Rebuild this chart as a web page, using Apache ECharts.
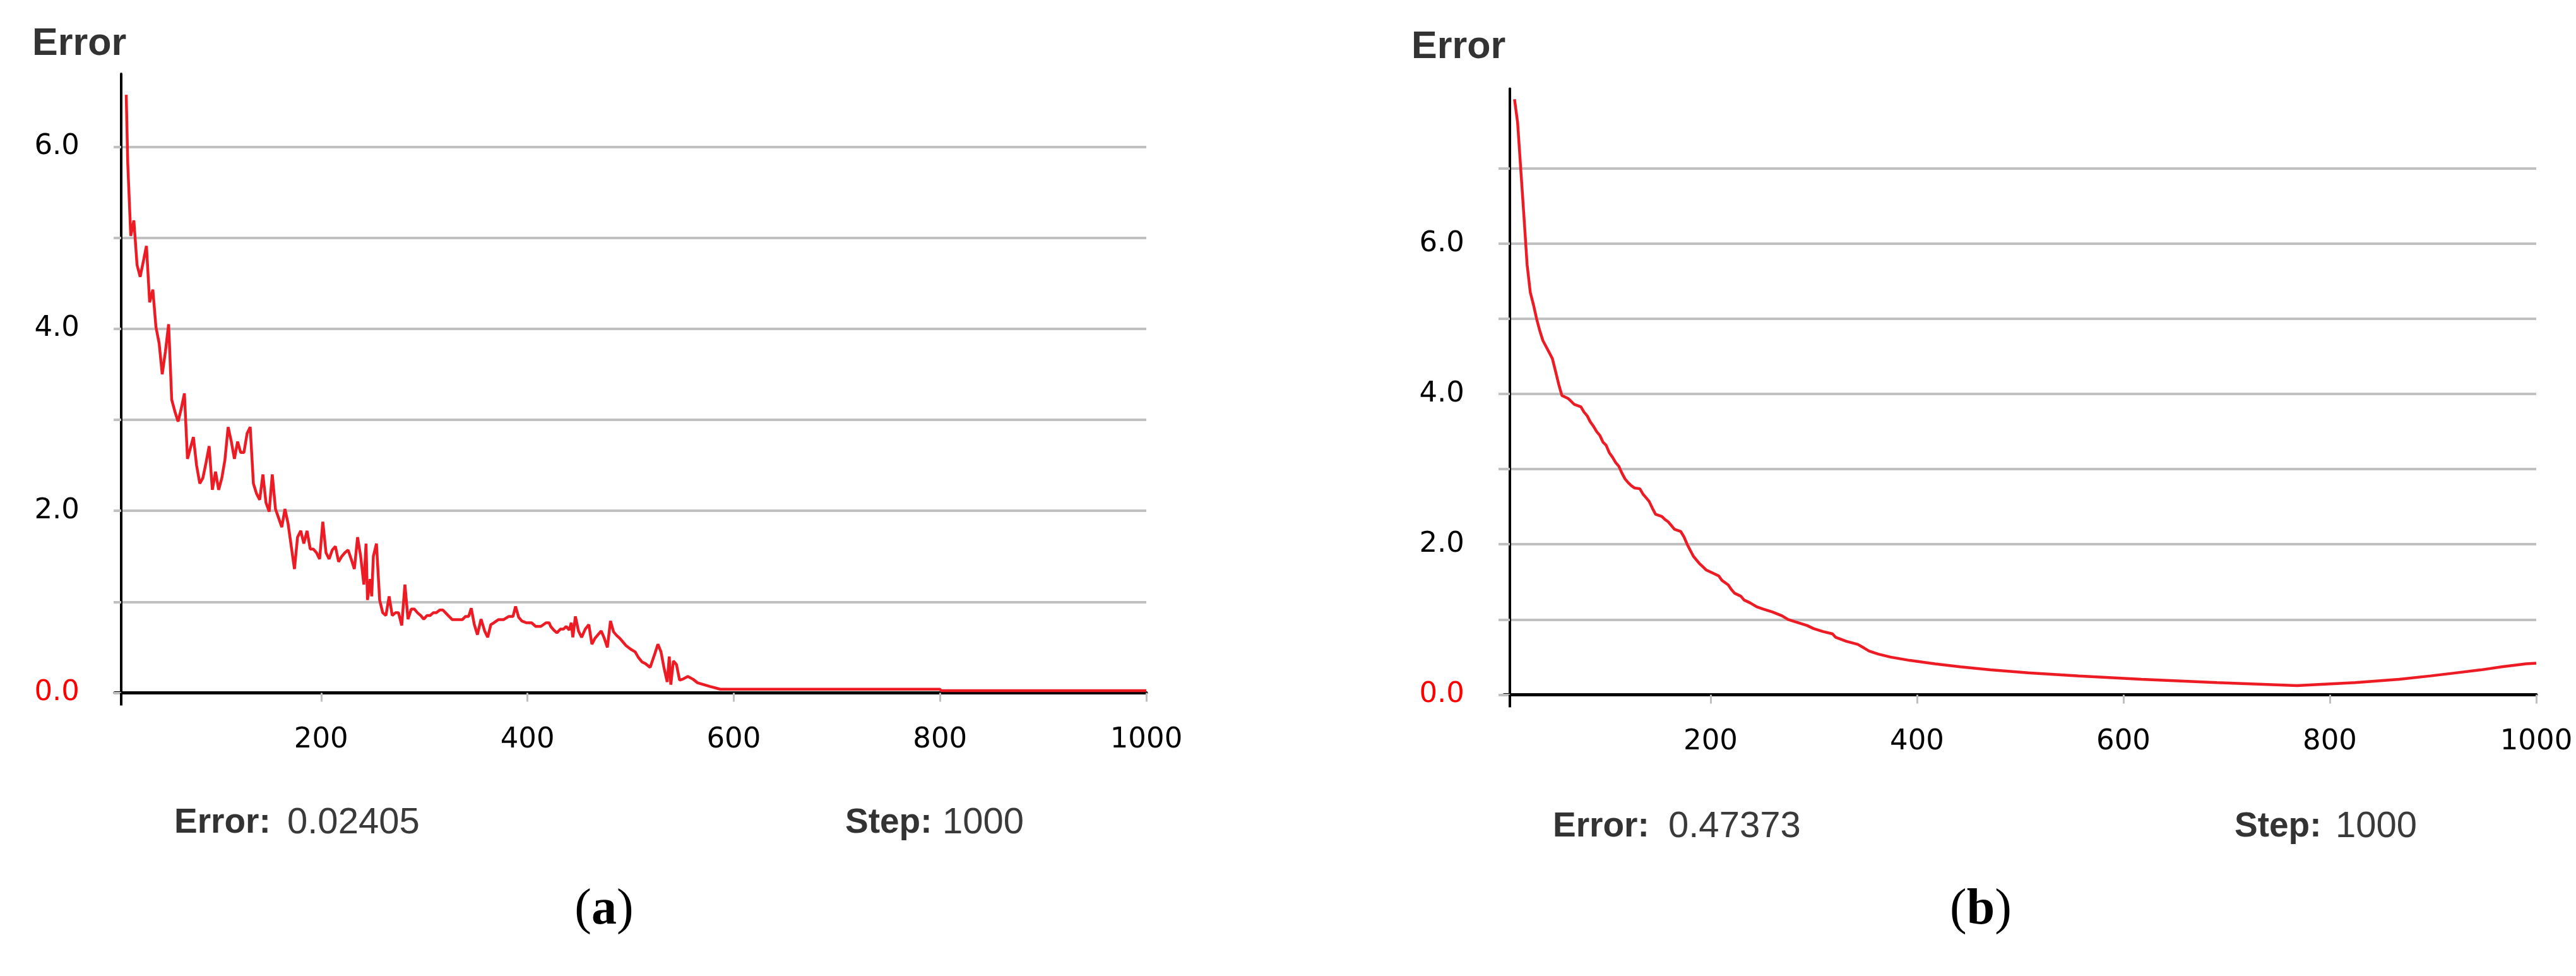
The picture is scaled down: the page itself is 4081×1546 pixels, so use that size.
<!DOCTYPE html>
<html>
<head>
<meta charset="utf-8">
<script src="https://cdn.jsdelivr.net/npm/echarts@6/dist/echarts.min.js"></script>
<style>
html,body{margin:0;padding:0;background:#ffffff;}
#chart{width:4081px;height:1546px;}
</style>
</head>
<body>
<div id="chart"></div>
<script>
// ---------- data ----------
const leftSteps = [11,12.5,15.4,18.4,21.5,24.5,27.6,30.6,33.7,36.8,39.8,42.9,45.9,49,52.1,55.1,58.2,61.3,64.3,67.4,70.4,76.1,79.2,82.3,85.3,88.4,91.4,94.5,97.6,100.6,103.7,106.7,109.8,112.9,115.9,119,122,125.1,128.2,131.2,134.3,137.3,140.4,143.5,146.5,149.6,152.6,155.7,158.8,161.8,164.9,167.9,171,174.1,177.1,180.2,183.2,186.3,189.4,192.4,195.5,198.5,201.6,204.7,207.7,210.8,213.8,216.9,220,223,226.1,229.1,232.2,235.3,238.3,241.4,243.5,244.9,247.5,249,250.6,253.6,256.7,259.7,262.8,265.9,268.9,272,275,278.1,281.2,284.2,287.3,290.4,293.4,296.5,299.5,302.6,305.6,308.7,311.7,315,318,321,324,327,332,337,340,343,345.5,348.5,351.5,355,358.5,361.5,364.5,367.5,372,377,382,386,388.5,391.5,394.5,399,404,408,413,418,421,422.5,425.5,428.5,432,435,437.5,440.5,442.5,444,446.5,449.5,452.5,456,459.5,462.5,465.5,468.5,471.5,474.5,477.5,480.5,483.5,486.5,489.5,492.5,495.5,500,504.5,507.5,511,514.5,519,523.5,526.5,529.5,532.5,535.5,537.5,539,541.5,544.5,547.5,550.5,555.5,560.5,565,577,587,700,800,801,1000];
const leftErrors = [6.57,5.81,5.02,5.19,4.70,4.57,4.74,4.91,4.29,4.43,4.02,3.84,3.50,3.75,4.05,3.22,3.09,2.98,3.12,3.29,2.57,2.81,2.50,2.30,2.36,2.53,2.71,2.23,2.43,2.23,2.36,2.56,2.92,2.76,2.57,2.76,2.64,2.64,2.85,2.92,2.30,2.19,2.12,2.40,2.09,1.99,2.40,2.02,1.92,1.82,2.02,1.86,1.61,1.36,1.71,1.78,1.64,1.78,1.58,1.58,1.54,1.47,1.88,1.54,1.47,1.57,1.61,1.44,1.50,1.54,1.57,1.47,1.36,1.71,1.50,1.19,1.64,1.02,1.25,1.06,1.50,1.64,1.02,0.88,0.85,1.06,0.85,0.88,0.88,0.74,1.19,0.81,0.92,0.92,0.88,0.85,0.81,0.85,0.85,0.88,0.88,0.91,0.91,0.875,0.84,0.805,0.805,0.805,0.84,0.84,0.93,0.75,0.64,0.81,0.68,0.61,0.75,0.77,0.805,0.805,0.84,0.84,0.95,0.83,0.79,0.77,0.77,0.73,0.73,0.77,0.77,0.73,0.69,0.66,0.70,0.70,0.73,0.69,0.77,0.61,0.84,0.68,0.61,0.70,0.75,0.535,0.60,0.64,0.68,0.60,0.50,0.79,0.67,0.63,0.60,0.56,0.52,0.48,0.45,0.39,0.34,0.32,0.28,0.43,0.535,0.45,0.27,0.12,0.40,0.09,0.35,0.31,0.14,0.15,0.18,0.15,0.11,0.07,0.04,0.04,0.04,0.024,0.024];

const rightSteps = [10,13,16.1,19.2,22.2,25.3,28.3,31.4,34.5,37.5,40.6,43.7,46.7,49.8,52.8,55.9,62,68,74.3,77.3,80.4,83.4,86.5,89.6,92.6,95.7,98.7,101.8,104.9,107.9,111,114,117.1,120.2,123.2,126.3,131.4,134.4,137.5,140.5,143.6,146.7,152.8,155.8,158.9,162,165,171.1,174.2,177.3,180.3,183.4,186.4,189.5,192.6,195.6,201.8,207.9,211,217.1,220.1,223.2,229.3,232.4,238.5,244.6,250.7,259.9,269.1,275.2,284.4,293.6,299.7,308.9,318.1,321,331.6,342.5,348.8,353.7,362.6,374.5,393,417.3,442,471.2,507.7,556.9,617.5,690.6,768.2,824.6,867.3,897.6,922,946.4,966.5,990,1000];
const rightErrors = [7.92,7.61,6.98,6.35,5.72,5.35,5.19,5.0,4.84,4.71,4.63,4.55,4.47,4.30,4.13,3.98,3.94,3.86,3.83,3.76,3.71,3.63,3.57,3.50,3.45,3.36,3.32,3.22,3.16,3.09,3.04,2.95,2.87,2.82,2.78,2.75,2.74,2.67,2.62,2.57,2.48,2.40,2.37,2.33,2.30,2.25,2.20,2.17,2.10,2.00,1.92,1.84,1.79,1.74,1.70,1.66,1.62,1.58,1.52,1.46,1.40,1.35,1.31,1.26,1.22,1.17,1.14,1.10,1.05,1.00,0.96,0.92,0.88,0.84,0.81,0.765,0.71,0.67,0.62,0.58,0.54,0.50,0.456,0.41,0.37,0.33,0.29,0.25,0.205,0.16,0.12,0.16,0.205,0.25,0.29,0.33,0.37,0.41,0.42];

const xTickValues = [200, 400, 600, 800, 1000];
const yLabelValues = [0, 2, 4, 6];
const yTickValuesLeft = [0, 1, 2, 3, 4, 5, 6];
const yTickValuesRight = [0, 1, 2, 3, 4, 5, 6, 7];
const axisTitle = 'Error';
const leftFinalError = '0.02405';
const rightFinalError = '0.47373';
const finalStep = '1000';
const captions = ['a', 'b'];

// ---------- styling ----------
const RED = '#ed1c24';
const GRID_GRAY = '#c0c0c0';
const TICK_FONT = 'DejaVu Sans';
const TEXT_FONT = 'Liberation Sans';

function toPairs(xs, ys) { return xs.map((x, i) => [x, ys[i]]); }

function yLabelFormatter(v) {
  if (yLabelValues.indexOf(v) < 0) return '';
  return v === 0 ? '{r|' + v.toFixed(1) + '}' : '{k|' + v.toFixed(1) + '}';
}

function makeX(gridIndex) {
  return {
    type: 'value', gridIndex: gridIndex, min: 0, max: 1000, interval: 200,
    axisLine: { show: true, onZero: false, lineStyle: { color: '#000', width: 5 } },
    axisTick: { show: true, customValues: xTickValues, length: 14, lineStyle: { color: GRID_GRAY, width: 3 } },
    axisLabel: {
      show: true, margin: 52, color: '#000', fontFamily: TICK_FONT, fontSize: 45,
      customValues: xTickValues,
      formatter: function (v) { return v === 0 ? '' : String(v); }
    },
    splitLine: { show: false }
  };
}

function makeY(gridIndex, max, offset, tickLen, labelMargin, tickValues, splitColors) {
  return {
    type: 'value', gridIndex: gridIndex, min: 0, max: max, interval: 1, offset: offset,
    axisLine: { show: true, onZero: false, lineStyle: { color: '#000', width: 4 } },
    axisTick: { show: true, customValues: tickValues, length: tickLen, lineStyle: { color: GRID_GRAY, width: 4 } },
    axisLabel: {
      show: true, margin: labelMargin, fontFamily: TICK_FONT, fontSize: 45, color: '#000',
      formatter: yLabelFormatter,
      rich: {
        r: { color: '#ff0000', fontFamily: TICK_FONT, fontSize: 45 },
        k: { color: '#000000', fontFamily: TICK_FONT, fontSize: 45 }
      }
    },
    splitLine: { show: true, showMinLine: true, showMaxLine: true, lineStyle: { color: splitColors, width: 4 } }
  };
}

const leftSplit = [GRID_GRAY];
const rightSplit = [GRID_GRAY, GRID_GRAY, GRID_GRAY, GRID_GRAY, GRID_GRAY, GRID_GRAY, GRID_GRAY, GRID_GRAY, 'rgba(0,0,0,0)'];

function txt(x, y, text, font, fill, align) {
  return {
    type: 'text', x: x, y: y, silent: true,
    style: { text: text, font: font, fill: fill, align: align || 'left', textAlign: align || 'left',
             verticalAlign: 'middle', textVerticalAlign: 'middle' }
  };
}
function caption(x, y, letter) {
  return {
    type: 'text', x: x, y: y, silent: true,
    style: {
      text: '{p|(}{b|' + letter + '}{p|)}',
      align: 'center', textAlign: 'center', verticalAlign: 'middle', textVerticalAlign: 'middle',
      rich: {
        p: { fontFamily: 'Liberation Serif', fontSize: 80, color: '#000' },
        b: { fontFamily: 'Liberation Serif', fontSize: 80, fontWeight: 'bold', color: '#000' }
      }
    }
  };
}

const BOLD_TITLE = 'bold 61px "' + TEXT_FONT + '"';
const BOLD_INFO = 'bold 55px "' + TEXT_FONT + '"';
const REG_INFO = '58px "' + TEXT_FONT + '"';

const Y_OFFSETS = [-10, -9];

const option = {
  backgroundColor: '#ffffff',
  animation: false,
  grid: [
    { left: 182, right: 2265, top: 117, bottom: 448.5, containLabel: false },
    { left: 2383, right: 63, top: 140.6, bottom: 445.6, containLabel: false }
  ],
  xAxis: [makeX(0), makeX(1)],
  yAxis: [
    makeY(0, 6.8, Y_OFFSETS[0], 12, 66, yTickValuesLeft, leftSplit),
    makeY(1, 8.06, Y_OFFSETS[1], 18, 72, yTickValuesRight, rightSplit)
  ],
  series: [
    { type: 'line', xAxisIndex: 0, yAxisIndex: 0, data: toPairs(leftSteps, leftErrors),
      showSymbol: false, symbol: 'none', lineStyle: { color: RED, width: 4.5 }, z: 5 },
    { type: 'line', xAxisIndex: 1, yAxisIndex: 1, data: toPairs(rightSteps, rightErrors),
      showSymbol: false, symbol: 'none', lineStyle: { color: RED, width: 4.5 }, z: 5 }
  ],
  graphic: [
    txt(51, 70, axisTitle, BOLD_TITLE, '#333333'),
    txt(2236, 75, axisTitle, BOLD_TITLE, '#333333'),
    txt(276, 1304, 'Error:', BOLD_INFO, '#333333'),
    txt(455, 1304, leftFinalError, REG_INFO, '#3a3a3a'),
    txt(1339, 1304, 'Step:', BOLD_INFO, '#333333'),
    txt(1493, 1304, finalStep, REG_INFO, '#3a3a3a'),
    txt(2460, 1310, 'Error:', BOLD_INFO, '#333333'),
    txt(2643, 1310, rightFinalError, REG_INFO, '#3a3a3a'),
    txt(3540, 1310, 'Step:', BOLD_INFO, '#333333'),
    txt(3700, 1310, finalStep, REG_INFO, '#3a3a3a'),
    caption(957, 1442, captions[0]),
    caption(3138, 1442, captions[1])
  ]
};

const chart = echarts.init(document.getElementById('chart'), null, { renderer: 'canvas' });
chart.setOption(option);

// Short stub of each y axis line continuing below the x axis (axis decoration, derived from the axes).
const stubs = [0, 1].map(function (i) {
  const origin = chart.convertToPixel({ xAxisIndex: i, yAxisIndex: i }, [0, 0]);
  const ax = origin[0] - Y_OFFSETS[i];
  return {
    type: 'line', silent: true, z: 10,
    shape: { x1: ax, y1: origin[1], x2: ax, y2: origin[1] + 20 },
    style: { stroke: '#000', lineWidth: 4 }
  };
});
chart.setOption({ graphic: option.graphic.concat(stubs) });
</script>
</body>
</html>
